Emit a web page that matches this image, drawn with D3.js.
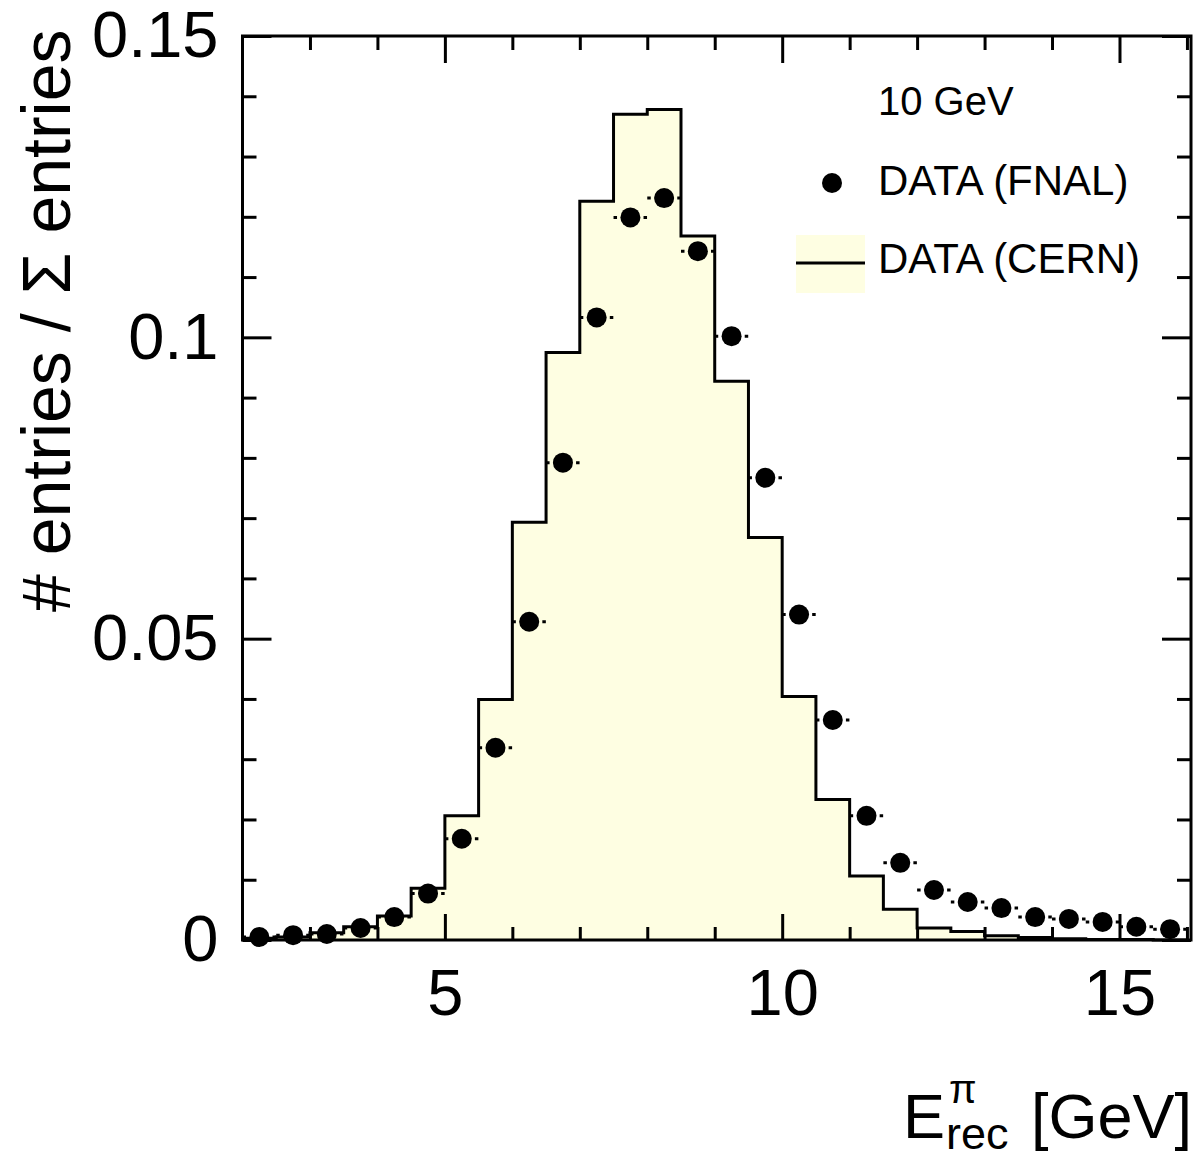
<!DOCTYPE html>
<html>
<head>
<meta charset="utf-8">
<script src="https://cdn.jsdelivr.net/npm/d3@7"></script>
<style>
  body { margin: 0; background: #fff; }
  svg { display: block; font-family: "Liberation Sans", Arial, Helvetica, sans-serif; }
  .axis line { stroke: #000; stroke-width: 3; }
  .axis text { font-size: 65px; fill: #000; }
</style>
</head>
<body>
<div id="chart"></div>
<script>
// bin edges (GeV), width 0.5
var binLow = [2, 2.5, 3, 3.5, 4, 4.5, 5, 5.5, 6, 6.5, 7, 7.5, 8, 8.5, 9, 9.5,
              10, 10.5, 11, 11.5, 12, 12.5, 13, 13.5, 14, 14.5, 15, 15.5];
var binWidth = 0.5;

// CERN histogram (normalised)
var cernValues = [0.0003, 0.0005, 0.0012, 0.0022, 0.0040, 0.0086, 0.0206, 0.0399,
                  0.0693, 0.0975, 0.1226, 0.1370, 0.1378, 0.1168, 0.0927, 0.0668,
                  0.0404, 0.0233, 0.0106, 0.0051, 0.0020, 0.0014, 0.0007, 0.0004,
                  0.0002, 0.0001, 0.0001, 0.0000];

// FNAL points (same binning)
var fnalValues = [0.0005, 0.0008, 0.0010, 0.0020, 0.0038, 0.0077, 0.0168, 0.0319,
                  0.0528, 0.0792, 0.1033, 0.1199, 0.1231, 0.1143, 0.1002, 0.0767,
                  0.0540, 0.0365, 0.0206, 0.0128, 0.0083, 0.0063, 0.0053, 0.0038,
                  0.0035, 0.0030, 0.0022, 0.0018];

var xMajor = [5, 10, 15];
var xMinor = [3, 4, 6, 7, 8, 9, 11, 12, 13, 14, 16];
var yMajor = [0, 0.05, 0.1, 0.15];
var yMinor = [0.01, 0.02, 0.03, 0.04, 0.06, 0.07, 0.08, 0.09, 0.11, 0.12, 0.13, 0.14];
var yLabels = {0: "0", 0.05: "0.05", 0.1: "0.1", 0.15: "0.15"};

var W = 1201, H = 1158;
var svg = d3.select("#chart").append("svg")
    .attr("width", W).attr("height", H);

var x = d3.scaleLinear().domain([2, 16.06]).range([242.5, 1191]);
var y = d3.scaleLinear().domain([0, 0.15]).range([940, 36]);

var fillCol = "#fefee2";

// histogram fill + outline
var pts = [[2, 0]];
binLow.forEach(function(b, i) {
  pts.push([b, cernValues[i]]);
  pts.push([b + binWidth, cernValues[i]]);
});
pts.push([16, 0]);

var line = d3.line().x(function(d) { return x(d[0]); }).y(function(d) { return y(d[1]); });

svg.append("path").datum(pts)
    .attr("d", line(pts) + "Z")
    .attr("fill", fillCol)
    .attr("stroke", "none");

svg.append("path").datum(pts)
    .attr("d", line)
    .attr("fill", "none")
    .attr("stroke", "#000")
    .attr("stroke-width", 3)
    .attr("stroke-linejoin", "miter");

// FNAL x-error bars (dotted) and markers
var fnal = svg.append("g");
binLow.forEach(function(b, i) {
  fnal.append("line")
      .attr("x1", x(b)).attr("x2", x(b + binWidth))
      .attr("y1", y(fnalValues[i])).attr("y2", y(fnalValues[i]))
      .attr("stroke", "#000").attr("stroke-width", 3)
      .attr("stroke-dasharray", "3.5 4");
});
fnal.selectAll("circle").data(fnalValues).enter().append("circle")
    .attr("cx", function(d, i) { return x(binLow[i] + binWidth / 2); })
    .attr("cy", function(d) { return y(d); })
    .attr("r", 10)
    .attr("fill", "#000");

// axes: ticks point inwards on all four sides
function noDomain(g) { g.select(".domain").remove(); }

svg.append("g").attr("class", "axis")
    .attr("transform", "translate(0,940)")
    .call(d3.axisBottom(x).tickValues(xMajor).tickSize(-26).tickPadding(29).tickFormat(d3.format("d")))
    .call(noDomain);
svg.append("g").attr("class", "axis")
    .attr("transform", "translate(0,940)")
    .call(d3.axisBottom(x).tickValues(xMinor).tickSize(-13).tickFormat(""))
    .call(noDomain);
svg.append("g").attr("class", "axis")
    .attr("transform", "translate(0,36)")
    .call(d3.axisTop(x).tickValues(xMajor).tickSize(-27).tickFormat(""))
    .call(noDomain);
svg.append("g").attr("class", "axis")
    .attr("transform", "translate(0,36)")
    .call(d3.axisTop(x).tickValues(xMinor).tickSize(-14).tickFormat(""))
    .call(noDomain);

svg.append("g").attr("class", "axis")
    .attr("transform", "translate(242.5,0)")
    .call(d3.axisLeft(y).tickValues(yMajor).tickSize(-29).tickPadding(24)
      .tickFormat(function(d) { return yLabels[d]; }))
    .call(noDomain);
svg.append("g").attr("class", "axis")
    .attr("transform", "translate(242.5,0)")
    .call(d3.axisLeft(y).tickValues(yMinor).tickSize(-14).tickFormat(""))
    .call(noDomain);
svg.append("g").attr("class", "axis")
    .attr("transform", "translate(1191,0)")
    .call(d3.axisRight(y).tickValues(yMajor).tickSize(-29).tickFormat(""))
    .call(noDomain);
svg.append("g").attr("class", "axis")
    .attr("transform", "translate(1191,0)")
    .call(d3.axisRight(y).tickValues(yMinor).tickSize(-14).tickFormat(""))
    .call(noDomain);

// frame
svg.append("rect")
    .attr("x", 242.5).attr("y", 36)
    .attr("width", 1191 - 242.5).attr("height", 940 - 36)
    .attr("fill", "none").attr("stroke", "#000").attr("stroke-width", 3);

// y title
svg.append("text")
    .attr("transform", "translate(70,612) rotate(-90)")
    .attr("font-size", 68)
    .text("# entries / \u03A3 entries");

// x title: E^pi_rec [GeV]
var xt = svg.append("g");
xt.append("text").attr("x", 903).attr("y", 1138).attr("font-size", 63).text("E");
xt.append("text").attr("x", 949).attr("y", 1103).attr("font-size", 40).text("\u03C0");
xt.append("text").attr("x", 946).attr("y", 1149).attr("font-size", 45).text("rec");
xt.append("text").attr("x", 1192).attr("y", 1138).attr("font-size", 63)
    .attr("text-anchor", "end").text("[GeV]");

// legend
var leg = svg.append("g").attr("font-size", 42);
leg.append("text").attr("x", 878).attr("y", 115).attr("font-size", 40).text("10 GeV");
leg.append("circle").attr("cx", 832).attr("cy", 183).attr("r", 10).attr("fill", "#000");
leg.append("text").attr("x", 878).attr("y", 195).text("DATA (FNAL)");
leg.append("rect").attr("x", 796).attr("y", 235).attr("width", 69).attr("height", 58)
    .attr("fill", fillCol);
leg.append("line").attr("x1", 796).attr("x2", 865).attr("y1", 263).attr("y2", 263)
    .attr("stroke", "#000").attr("stroke-width", 3);
leg.append("text").attr("x", 878).attr("y", 273).text("DATA (CERN)");
</script>
</body>
</html>
